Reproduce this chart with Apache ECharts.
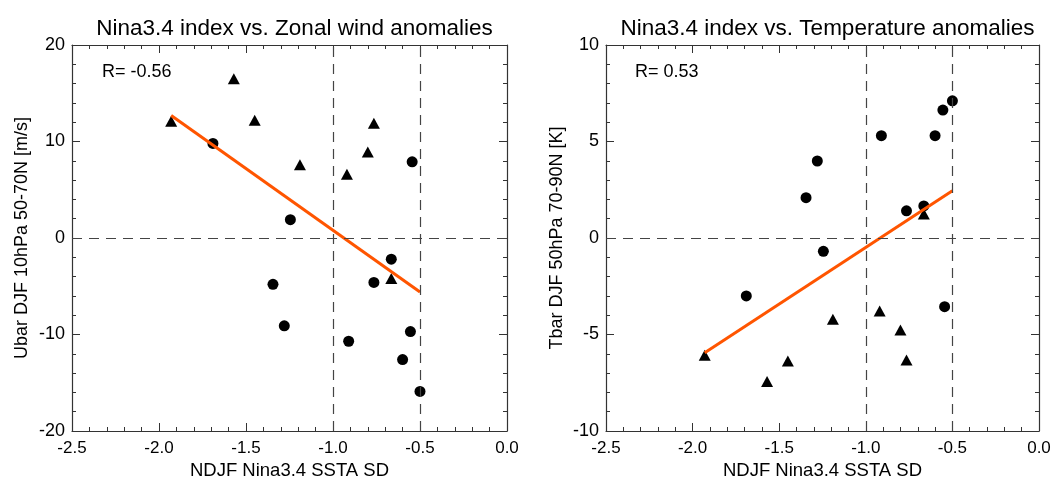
<!DOCTYPE html>
<html>
<head>
<meta charset="utf-8">
<script src="https://cdn.jsdelivr.net/npm/echarts@6/dist/echarts.min.js"></script>
<style>html,body{margin:0;padding:0;background:#fff}#c{width:1054px;height:478px}</style>
</head>
<body>
<div id="c"></div>
<script>
// ---- data ----
const xTicks = [-2.5, -2.0, -1.5, -1.0, -0.5, 0.0];
const xTri  = [-1.93, -1.57, -1.45, -1.19, -0.92, -0.80, -0.765, -0.665];
const uTri  = [12.1, 16.5, 12.2, 7.6, 6.6, 8.9, 11.9, -4.2];
const tTri  = [-6.08, -7.44, -6.37, -4.21, -3.78, -4.77, -6.32, 1.24];
const xCirc = [-1.69, -1.345, -1.28, -1.245, -0.91, -0.765, -0.665, -0.60, -0.555, -0.545, -0.50];
const uCirc = [9.8, -4.8, -9.1, 1.9, -10.7, -4.6, -2.2, -12.6, -9.7, 7.9, -15.9];
const tCirc = [-3.0, 2.09, 3.99, -0.69, 5.3, 1.41, 1.66, 5.3, 6.63, -3.56, 7.11];
const uFitX = [-1.93, -0.5];
const uFitY = [12.7, -5.6];
const tFitX = [-1.93, -0.5];
const tFitY = [-5.95, 2.45];
const refX = [-1.0, -0.5];
const refY = [0];
const titles = ['Nina3.4 index vs. Zonal wind anomalies', 'Nina3.4 index vs. Temperature anomalies'];
const yNames = ['Ubar DJF 10hPa 50-70N [m/s]', 'Tbar DJF 50hPa 70-90N [K]'];
const xName = 'NDJF Nina3.4 SSTA SD';
const rTexts = ['R= -0.56', 'R= 0.53'];

// ---- chart ----
const FONT = 'Liberation Sans, Arial, sans-serif';
const AX = '#333';
const zip = (a, b) => a.map((v, i) => [v, b[i]]);

const grids = [
  {left: 72, top: 45, width: 435, height: 386, outerBoundsMode: 'none', containLabel: false},
  {left: 606, top: 45, width: 433, height: 386, outerBoundsMode: 'none', containLabel: false}
];
const yCfg = [{min: -20, max: 20, interval: 10}, {min: -10, max: 10, interval: 5}];
const yGap = [41, 40];

const xAxes = [], yAxes = [];
grids.forEach((g, i) => {
  ['bottom', 'top'].forEach(pos => {
    xAxes.push({
      type: 'value', gridIndex: i, position: pos, min: -2.5, max: 0, interval: 0.5,
      axisLine: {show: true, onZero: false, lineStyle: {color: AX, width: 1.2}},
      axisTick: {show: true, inside: true, length: 8, lineStyle: {color: AX}},
      minorTick: {show: true, splitNumber: 5, length: 4, lineStyle: {color: AX}},
      splitLine: {show: false},
      axisLabel: {show: pos === 'bottom', color: '#000', fontFamily: FONT, fontSize: 17, margin: 9,
                  formatter: v => Number(v).toFixed(1)},
      name: pos === 'bottom' ? xName : '', nameLocation: 'middle', nameGap: 28,
      nameTextStyle: {color: '#000', fontFamily: FONT, fontSize: 18.5}
    });
  });
  ['left', 'right'].forEach(pos => {
    yAxes.push({
      type: 'value', gridIndex: i, position: pos, min: yCfg[i].min, max: yCfg[i].max, interval: yCfg[i].interval,
      axisLine: {show: true, onZero: false, lineStyle: {color: AX, width: 1.2}},
      axisTick: {show: true, inside: true, length: 8, lineStyle: {color: AX}},
      minorTick: {show: true, splitNumber: 5, length: 4, lineStyle: {color: AX}},
      splitLine: {show: false},
      axisLabel: {show: pos === 'left', color: '#000', fontFamily: FONT, fontSize: 18, margin: 7},
      name: pos === 'left' ? yNames[i] : '', nameLocation: 'middle', nameRotate: 90,
      nameGap: yGap[i],
      nameTextStyle: {color: '#000', fontFamily: FONT, fontSize: 18}
    });
  });
});

const series = [];
const panels = [
  {tri: uTri, circ: uCirc, fx: uFitX, fy: uFitY},
  {tri: tTri, circ: tCirc, fx: tFitX, fy: tFitY}
];
panels.forEach((p, i) => {
  const xi = i * 2, yi = i * 2;
  series.push({
    type: 'line', xAxisIndex: xi, yAxisIndex: yi, data: [], silent: true, z: 1,
    markLine: {
      silent: true, symbol: 'none', animation: false,
      label: {show: false},
      lineStyle: {color: '#444', type: [10, 7], width: 1.2},
      data: refX.map(v => ({xAxis: v})).concat(refY.map(v => ({yAxis: v})))
    }
  });
  series.push({
    type: 'scatter', xAxisIndex: xi, yAxisIndex: yi, symbol: 'triangle', symbolSize: [12, 11],
    itemStyle: {color: '#000', opacity: 1}, data: zip(xTri, p.tri), z: 3, animation: false
  });
  series.push({
    type: 'scatter', xAxisIndex: xi, yAxisIndex: yi, symbol: 'circle', symbolSize: 11,
    itemStyle: {color: '#000', opacity: 1}, data: zip(xCirc, p.circ), z: 3, animation: false
  });
  series.push({
    type: 'line', xAxisIndex: xi, yAxisIndex: yi, symbol: 'none', z: 4, animation: false,
    lineStyle: {color: '#ff5500', width: 3}, data: zip(p.fx, p.fy)
  });
});

const chart = echarts.init(document.getElementById('c'), null, {renderer: 'canvas'});
chart.setOption({
  backgroundColor: '#fff',
  animation: false,
  title: titles.map((t, i) => ({
    text: t, left: grids[i].left + grids[i].width / 2, top: 12, textAlign: 'center',
    textStyle: {color: '#000', fontFamily: FONT, fontSize: 22.5, fontWeight: 'normal'}
  })),
  grid: grids,
  xAxis: xAxes,
  yAxis: yAxes,
  graphic: rTexts.map((t, i) => ({
    type: 'text', left: grids[i].left + (i === 0 ? 30 : 29), top: 63,
    style: {text: t, fill: '#000', font: '18px ' + FONT}
  })),
  series: series
});
</script>
</body>
</html>
